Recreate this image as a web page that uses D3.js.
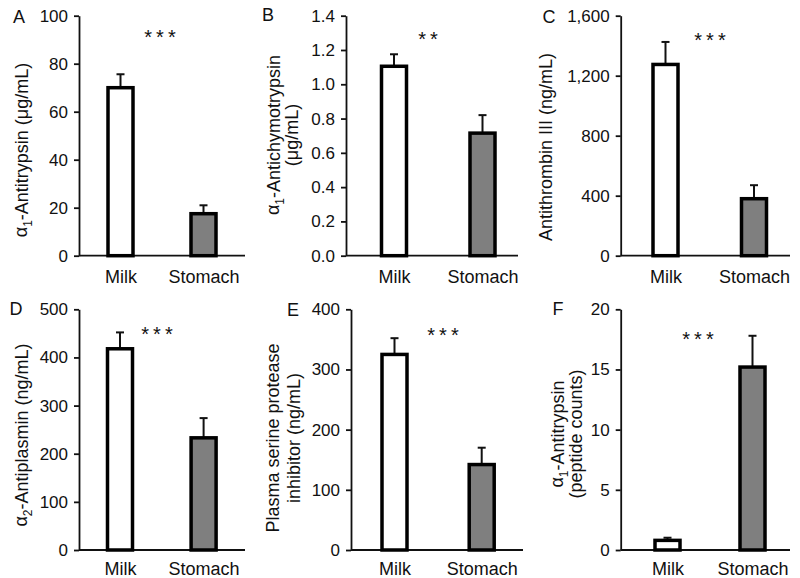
<!DOCTYPE html>
<html>
<head>
<meta charset="utf-8">
<script src="https://cdn.jsdelivr.net/npm/d3@7"></script>
<style>
  body { margin: 0; background: #fff; }
  text { font-family: "Liberation Sans", Arial, sans-serif; fill: #111; }
</style>
</head>
<body>
<svg id="canvas"></svg>
<script>
const WIDTH = 800;
const HEIGHT = 578;

// data
const categories = ["Milk", "Stomach"];
const panelLetters = ["A", "B", "C", "D", "E", "F"];
const meanValues = [
    [70, 17.5],
    [1.105, 0.715],
    [1275, 380],
    [418, 233],
    [325, 142],
    [0.8, 15.2]
];
// top of the error bar (mean + SEM)
const errorTops = [
    [75.6, 21],
    [1.175, 0.82],
    [1425, 470],
    [452, 274],
    [352, 170],
    [1.02, 17.8]
];
const yMaxes = [100, 1.4, 1600, 500, 400, 20];
const yTickValues = [
    [0, 20, 40, 60, 80, 100],
    [0, 0.2, 0.4, 0.6, 0.8, 1.0, 1.2, 1.4],
    [0, 400, 800, 1200, 1600],
    [0, 100, 200, 300, 400, 500],
    [0, 100, 200, 300, 400],
    [0, 5, 10, 15, 20]
];
const yTickFormats = ["d", ".1f", ",", "d", "d", "d"];
// {n} = subscript
const yTitles = [
    ["α{1}-Antitrypsin (μg/mL)"],
    ["α{1}-Antichymotrypsin", "(μg/mL)"],
    ["Antithrombin III (ng/mL)"],
    ["α{2}-Antiplasmin (ng/mL)"],
    ["Plasma serine protease", "inhibitor (ng/mL)"],
    ["α{1}-Antitrypsin", "(peptide counts)"]
];
const stars = ["***", "**", "***", "***", "***", "***"];

// panel geometry (pixels)
const layout = [
    { x0: 79, x1: 245, top: 15.7, bottom: 255.7, pad: 15, bars: [120.5, 203.5], titleX: [21], titleY: 150, letter: [19, 16], star: [160, 33] },
    { x0: 346, x1: 518, top: 15.7, bottom: 255.7, pad: 15, bars: [394, 482.5], titleX: [273, 292], titleY: 135, letter: [268, 14], star: [428, 35] },
    { x0: 620.7, x1: 790, top: 15.7, bottom: 255.7, pad: 15, bars: [665.5, 754], titleX: [546], titleY: 147, letter: [549, 16], star: [710, 36] },
    { x0: 79, x1: 245, top: 309.3, bottom: 550, pad: 12, bars: [120, 203.6], titleX: [21], titleY: 435, letter: [16, 308], star: [157, 330] },
    { x0: 351, x1: 523, top: 309.3, bottom: 550, pad: 12, bars: [394.5, 481.7], titleX: [273, 294], titleY: 438, letter: [293, 309], star: [443, 331] },
    { x0: 620.7, x1: 790, top: 309.3, bottom: 550, pad: 12, bars: [667.5, 752.5], titleX: [557, 576], titleY: 434, letter: [558, 308], star: [698, 335] }
];

const BAR_W = 25;
const CAP_HALF = 4;
const fills = ["#ffffff", "#7f7f7f"];

const canvas = d3.select('#canvas')
    .attr("width", WIDTH)
    .attr("height", HEIGHT);

panelLetters.forEach((letter, i) => {
    const L = layout[i];
    const g = canvas.append('g');

    const scaleY = d3.scaleLinear([0, yMaxes[i]], [L.bottom, L.top]);
    const scaleX = d3.scalePoint(categories, L.bars);

    // y axis
    const yAxis = d3.axisLeft(scaleY)
        .tickValues(yTickValues[i])
        .tickFormat(d3.format(yTickFormats[i]))
        .tickSize(5)
        .tickSizeOuter(0)
        .tickPadding(6);
    const ag = g.append('g')
        .attr('transform', `translate(${L.x0},0)`)
        .call(yAxis);
    ag.select('.domain').attr('stroke', '#111').attr('stroke-width', 1.8);
    ag.selectAll('.tick line').attr('stroke', '#111').attr('stroke-width', 1.8);
    ag.selectAll('.tick text')
        .attr('font-size', '17px')
        .attr('font-family', '"Liberation Sans", Arial, sans-serif')
        .attr('fill', '#111');

    // x axis line, no ticks
    const xAxis = d3.axisBottom(scaleX).tickSize(0).tickPadding(L.pad);
    const xg = g.append('g')
        .attr('transform', `translate(0,${L.bottom})`)
        .call(xAxis);
    xg.select('.domain')
        .attr('d', `M${L.x0},0H${L.x1}`)
        .attr('stroke', '#111')
        .attr('stroke-width', 1.8);
    xg.selectAll('.tick text')
        .attr('font-size', '18px')
        .attr('font-family', '"Liberation Sans", Arial, sans-serif')
        .attr('fill', '#111');

    const rows = categories.map((c, j) => ({ cat: c, v: meanValues[i][j], e: errorTops[i][j], fill: fills[j] }));

    // error bars (upper only)
    g.selectAll('line.err')
        .data(rows)
        .enter()
        .append('line')
        .attr('class', 'err')
        .attr('x1', d => scaleX(d.cat))
        .attr('x2', d => scaleX(d.cat))
        .attr('y1', d => scaleY(d.e))
        .attr('y2', d => scaleY(d.v))
        .attr('stroke', '#111')
        .attr('stroke-width', 2);
    g.selectAll('line.cap')
        .data(rows)
        .enter()
        .append('line')
        .attr('class', 'cap')
        .attr('x1', d => scaleX(d.cat) - CAP_HALF)
        .attr('x2', d => scaleX(d.cat) + CAP_HALF)
        .attr('y1', d => scaleY(d.e))
        .attr('y2', d => scaleY(d.e))
        .attr('stroke', '#111')
        .attr('stroke-width', 2);

    // bars
    g.selectAll('rect')
        .data(rows)
        .enter()
        .append('rect')
        .attr('x', d => scaleX(d.cat) - BAR_W / 2)
        .attr('y', d => scaleY(d.v))
        .attr('width', BAR_W)
        .attr('height', d => scaleY(0) - scaleY(d.v))
        .attr('fill', d => d.fill)
        .attr('stroke', '#000')
        .attr('stroke-width', 3.5);

    // y title, rotated
    yTitles[i].forEach((line, k) => {
        const t = g.append('text')
            .attr('transform', `translate(${L.titleX[k]},${L.titleY}) rotate(-90)`)
            .attr('text-anchor', 'middle')
            .attr('dy', '0.36em')
            .attr('font-size', '18px');
        const parts = line.split(/\{(\d)\}/);
        parts.forEach((p, n) => {
            if (p === '') return;
            if (n % 2 === 1) {
                t.append('tspan').attr('font-size', '12px').attr('dy', '0.35em').text(p);
            } else {
                const ts = t.append('tspan').text(p);
                if (n > 0) ts.attr('dy', '-0.23em');
            }
        });
    });

    // panel letter
    g.append('text')
        .attr('x', L.letter[0])
        .attr('y', L.letter[1] + 6.5)
        .attr('text-anchor', 'middle')
        .attr('font-size', '18px')
        .text(letter);

    // significance
    g.append('text')
        .attr('x', L.star[0] + 2)
        .attr('y', L.star[1] + 11)
        .attr('text-anchor', 'middle')
        .attr('font-size', '20px')
        .attr('letter-spacing', '4px')
        .text(stars[i]);
});
</script>
</body>
</html>
